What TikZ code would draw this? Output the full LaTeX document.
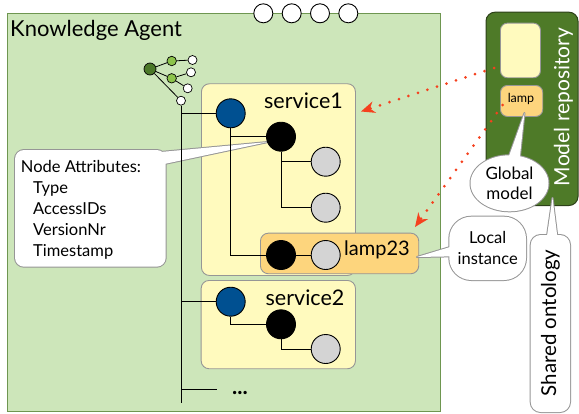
\documentclass[tikz,border=0pt]{standalone}
\usepackage{fontspec}
\setmainfont{Lato}
\usetikzlibrary{arrows.meta,shapes.geometric}
\definecolor{agentbg}{RGB}{205,230,186}
\definecolor{agentbd}{RGB}{110,150,80}
\definecolor{svcbg}{RGB}{255,250,190}
\definecolor{lampbg}{RGB}{253,213,125}
\definecolor{boxbd}{RGB}{150,150,150}
\definecolor{nodeblue}{RGB}{0,80,145}
\definecolor{nodegray}{RGB}{212,212,212}
\definecolor{repogreen}{RGB}{78,122,40}
\definecolor{repobd}{RGB}{45,65,25}
\definecolor{icondark}{RGB}{75,120,40}
\definecolor{iconlight}{RGB}{140,195,75}
\definecolor{arrowred}{RGB}{245,65,30}
\definecolor{callbd}{RGB}{150,150,150}
\begin{document}
\begin{tikzpicture}[x=1pt,y=-1pt,
  every node/.style={inner sep=0pt},
  dot/.style={circle,draw=black,line width=0.9pt,minimum size=29pt,inner sep=0pt},
  bluedot/.style={dot,fill=nodeblue},
  blackdot/.style={dot,fill=black},
  graydot/.style={dot,fill=nodegray},
  port/.style={circle,draw=black,fill=white,line width=0.9pt,minimum size=19pt},
  icdark/.style={circle,draw=black,fill=icondark,line width=0.7pt,minimum size=12pt},
  iclight/.style={circle,draw=black,fill=iconlight,line width=0.7pt,minimum size=9.5pt},
  icwhite/.style={circle,draw=black,fill=white,line width=0.7pt,minimum size=9pt},
  icline/.style={draw=black,line width=0.8pt},
  link/.style={draw=black,line width=1pt},
  box/.style={anchor=north west,draw=boxbd,line width=0.9pt,rounded corners=8pt},
  svcbox/.style={box,fill=svcbg},
  lampbox/.style={box,fill=lampbg},
  bigtxt/.style={font=\fontsize{21.5}{25}\selectfont},
  midtxt/.style={font=\fontsize{16.5}{21}\selectfont},
  calledge/.style={draw=callbd,line width=2pt,line join=round},
  callfill/.style={fill=white},
  redarrow/.style={draw=arrowred,line width=3pt,line cap=round,dash pattern=on 0pt off 10pt,
     -{Stealth[length=14pt,width=12pt,line width=0pt]}},
]
\useasboundingbox (0,0) rectangle (579,413);

% agent
\node[anchor=north west,draw=agentbd,fill=agentbg,line width=1pt,minimum width=433pt,minimum height=397.7pt] (agent) at (7,13.3) {};
\foreach \i/\x in {1/263.3,2/291.7,3/320,4/348.3}
  \node[port] (port\i) at (\x,13.3) {};
\node[anchor=base west,font=\fontsize{22}{26}\selectfont] (agentlbl) at (10,36.7) {Knowledge Agent};

% service boxes
\node[svcbox,minimum width=154pt,minimum height=191.7pt] (svc1) at (201,83.3) {};
\node[lampbox,minimum width=158.3pt,minimum height=40.6pt] (lampinst) at (260,232.7) {};
\node[svcbox,minimum width=154.3pt,minimum height=88.3pt] (svc2) at (200.7,280) {};
\node[anchor=base,bigtxt] (svc1lbl) at (303.5,108.3) {service1};
\node[anchor=base,bigtxt] (svc2lbl) at (305,305) {service2};
\node[anchor=base,font=\fontsize{20}{24}\selectfont] (lamplbl) at (377,255) {lamp23};

% node attributes callout
\path[calledge,rounded corners=9pt] (15,150) rectangle (165.7,266.7);
\path[calledge] (150,153) -- (268,142) -- (150,167) -- cycle;
\path[callfill,rounded corners=9pt] (15,150) rectangle (165.7,266.7);
\path[callfill] (150,153) -- (268,142) -- (150,167) -- cycle;
\node[anchor=base west,midtxt] (attr1) at (20.7,172) {Node Attributes:};
\node[anchor=base west,midtxt] (attr2) at (33,193) {Type};
\node[anchor=base west,midtxt] (attr3) at (33,214) {AccessIDs};
\node[anchor=base west,midtxt] (attr4) at (33,235) {VersionNr};
\node[anchor=base west,midtxt] (attr5) at (33,256) {Timestamp};

% tree icon
\node[icdark] (ic0) at (150,69) {};
\node[iclight] (ic1) at (171.7,61) {};
\node[iclight] (ic2) at (171.7,78.3) {};
\node[icwhite] (ic3) at (192.5,60) {};
\node[icwhite] (ic4) at (191,72.3) {};
\node[icwhite] (ic5) at (187.7,88.3) {};
\node[icwhite] (ic6) at (181,100.7) {};
\draw[icline] (ic0) -- (ic1);
\draw[icline] (ic0) -- (ic2);
\draw[icline] (ic0) -- (ic6);
\draw[icline] (ic1) -- (ic3);
\draw[icline] (ic2) -- (ic4);
\draw[icline] (ic2) -- (ic5);

% circles
\node[bluedot] (s1) at (230.7,113.3) {};
\node[blackdot] (b1) at (281,136.7) {};
\node[graydot] (g1) at (325.7,161.7) {};
\node[graydot] (g2) at (325.7,207.7) {};
\node[blackdot] (lb) at (281,255) {};
\node[graydot] (lg) at (325.7,255) {};
\node[bluedot] (s2) at (230.7,301.7) {};
\node[blackdot] (b2) at (281,324.3) {};
\node[graydot] (g3) at (325.7,349) {};

% connectors
\coordinate (trbot) at (181,403);
\coordinate (dotsend) at (216.7,389);
\draw[link] (ic6.south) -- (trbot);
\draw[link] (s1.west) -- (s1.west -| trbot);
\draw[link] (s2.west) -- (s2.west -| trbot);
\draw[link] (dotsend) -- (dotsend -| trbot);
\draw[link] (s1.south) |- (b1.west);
\draw[link] (s1.south) |- (lb.west);
\draw[link] (b1.south) |- (g1.west);
\draw[link] (b1.south) |- (g2.west);
\draw[link] (lb.east) -- (lg.west);
\draw[link] (s2.south) |- (b2.west);
\draw[link] (b2.south) |- (g3.west);
\node[font=\fontsize{22}{24}\selectfont\bfseries] (more) at (240,393) {...};

% model repository
\node[anchor=north west,draw=repobd,fill=repogreen,line width=1pt,rounded corners=9pt,minimum width=92pt,minimum height=193.3pt] (repo) at (485.5,11.7) {};
\node[svcbox,rounded corners=7pt,minimum width=40pt,minimum height=54.6pt] (repoyel) at (500,22.7) {};
\node[lampbox,rounded corners=7pt,minimum width=42.3pt,minimum height=31pt] (repolamp) at (500,85) {};
\node[font=\fontsize{12.5}{14}\selectfont] (repolamplbl) at (521,99) {lamp};
\node[rotate=90,text=white,font=\fontsize{21}{24}\selectfont] (repolbl) at (563.5,107) {Model repository};

% global model callout
\path[calledge] (509.5,183.3) ellipse [x radius=39, y radius=28];
\path[calledge] (504,170) -- (524.5,113) -- (518.5,170) -- cycle;
\path[callfill] (509.5,183.3) ellipse [x radius=39, y radius=28];
\path[callfill] (504,170) -- (524.5,113) -- (518.5,170) -- cycle;
\node[align=center,font=\fontsize{17}{19.5}\selectfont] (globlbl) at (509.5,183.3) {Global\\model};

% local instance callout
\path[calledge,rounded corners=22pt] (449.3,216.7) rectangle (526,280);
\path[calledge] (470,241) -- (417,257) -- (470,256) -- cycle;
\path[callfill,rounded corners=22pt] (449.3,216.7) rectangle (526,280);
\path[callfill] (470,241) -- (417,257) -- (470,256) -- cycle;
\node[align=center,font=\fontsize{16.5}{21}\selectfont] (loclbl) at (487.7,248) {Local\\instance};

% shared ontology callout
\path[calledge,rounded corners=10pt] (530.7,235) rectangle (570,412);
\path[calledge] (545,250) -- (552.5,198) -- (559,250) -- cycle;
\path[callfill,rounded corners=10pt] (530.7,235) rectangle (570,412);
\path[callfill] (545,250) -- (552.5,198) -- (559,250) -- cycle;
\node[rotate=90,font=\fontsize{20.5}{24}\selectfont] (ontlbl) at (550.5,323) {Shared ontology};

% red arrows
\coordinate (a1s) at (494,68);
\coordinate (a1e) at (361,111.5);
\coordinate (a2s) at (502.7,105);
\coordinate (a2e) at (415,227);
\draw[redarrow] (a1s) -- (a1e);
\draw[redarrow] (a2s) -- (a2e);
\end{tikzpicture}
\end{document}
